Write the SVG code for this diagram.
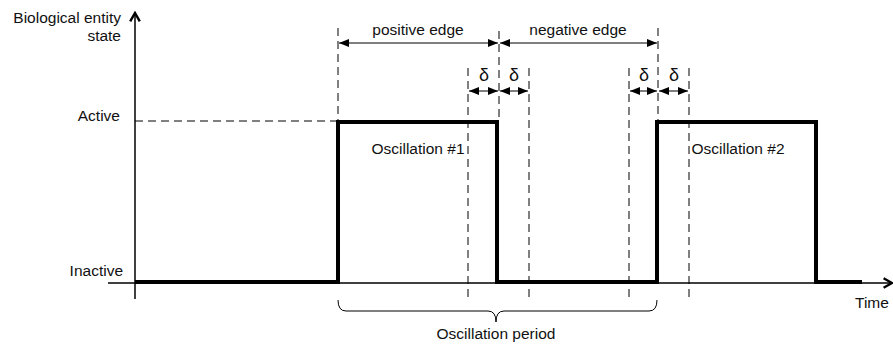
<svg xmlns="http://www.w3.org/2000/svg" width="893" height="346" viewBox="0 0 893 346">
<defs>
<marker id="tri" viewBox="0 0 10 10" refX="10" refY="5" markerWidth="10" markerHeight="10" markerUnits="userSpaceOnUse" orient="auto-start-reverse">
<path d="M0,1 L10,5 L0,9 Z" fill="#000"/>
</marker>
<marker id="chev" viewBox="0 0 10 10" refX="8" refY="5" markerWidth="12" markerHeight="12" markerUnits="userSpaceOnUse" orient="auto">
<path d="M1,1 L8,5 L1,9" fill="none" stroke="#000" stroke-width="2"/>
</marker>
<style>
text{font-family:"Liberation Sans",Arial,sans-serif;font-size:15.5px;fill:#111}
.axis{stroke:#000;stroke-width:1.5;fill:none}
.sig{stroke:#000;stroke-width:4;fill:none;stroke-linejoin:miter}
.dash{stroke:#000;stroke-width:1;stroke-dasharray:8,5;fill:none}
.dim{stroke:#000;stroke-width:1;fill:none;marker-start:url(#tri);marker-end:url(#tri)}
.r{text-anchor:end}
.m{text-anchor:middle}
.d{font-size:18px}
</style>
</defs>
<g id="axes">
<path class="axis" d="M135,299 V13" marker-end="url(#chev)"/>
<path class="axis" d="M108,283 H892" marker-end="url(#chev)"/>
</g>
<g id="labels">
<text class="r" x="121" y="23">Biological entity</text>
<text class="r" x="121" y="41">state</text>
<text class="r" x="120" y="121">Active</text>
<text class="r" x="123" y="276">Inactive</text>
<text x="855" y="308">Time</text>
</g>
<g id="signal">
<path class="sig" d="M135,282 H338 V122 H497 V282 H657 V122 H816 V282 H862"/>
<text class="m" x="418" y="154">Oscillation #1</text>
<text class="m" x="738" y="154">Oscillation #2</text>
</g>
<g id="connectors">
<path class="dash" d="M135,121 H336"/>
<path class="dash" d="M338,28 V120"/>
<path class="dash" d="M499,31 V120"/>
<path class="dash" d="M658,28 V120"/>
<path class="dash" d="M468,68 V298"/>
<path class="dash" d="M529,68 V298"/>
<path class="dash" d="M629,68 V298"/>
<path class="dash" d="M689,68 V298"/>
<path class="dim" d="M339,43 H498"/>
<path class="dim" d="M500,43 H657"/>
<path class="dim" d="M469,91 H498"/>
<path class="dim" d="M500,91 H528"/>
<path class="dim" d="M630,91 H657"/>
<path class="dim" d="M659,91 H688"/>
<path d="M338,300 Q338,311 346,311 H488 Q496,311 496,322 Q496,311 504,311 H649 Q657,311 657,300" fill="none" stroke="#000" stroke-width="1"/>
</g>
<g id="dimlabels">
<text class="m" x="418" y="35">positive edge</text>
<text class="m" x="578" y="35">negative edge</text>
<text class="m d" x="484" y="81">δ</text>
<text class="m d" x="514" y="81">δ</text>
<text class="m d" x="644" y="81">δ</text>
<text class="m d" x="674" y="81">δ</text>
<text class="m" x="496" y="339">Oscillation period</text>
</g>
</svg>
